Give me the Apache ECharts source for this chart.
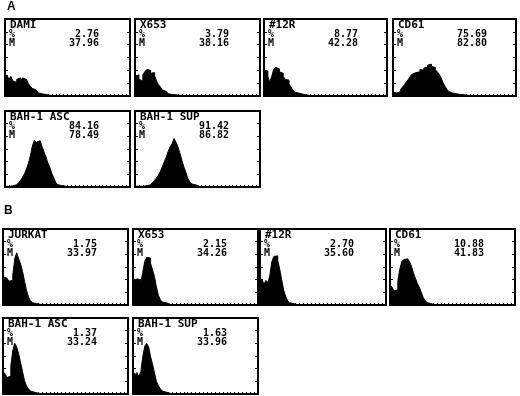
<!DOCTYPE html>
<html>
<head>
<meta charset="utf-8">
<script src="https://cdn.jsdelivr.net/npm/echarts@6/dist/echarts.min.js"></script>
<style>
html,body{margin:0;padding:0;background:#fff;}
#main{width:520px;height:396px;}
</style>
</head>
<body>
<div id="main"></div>
<script>
// histogram heights in % of panel height, 64 channel bins across each panel
// (bins not listed are empty)
var damiA   = [24,28,22,26,20,18,22,24,20,24,22,20,16,13,10,8,6,4,3,2,2,1,1,1,0.5,0.5,0.3,0.3];
var x653A   = [26,28,22,20,28,32,35,34,30,31,27,20,15,12,8,6,4,3,2,2,1.5,1,1,0.5,0.5,0.3];
var r12A    = [34,33,26,18,26,35,38,36,32,30,26,22,21,16,12,8,5,4,3,2.5,2,1.5,1,1,0.5,0.5,0.3];
var cd61A   = [5,4,4,6,9,12,15,19,22,26,29,31,33,32,35,34,37,38,41,42,39,38,35,32,29,24,18,13,9,6,4,3,3,2,2,1.5,1.5,1,1,1,0.5,0.5,0.5,0.3];
var bahAscA = [1,1,1,1.5,2,3,4,6,9,13,18,24,32,42,55,63,60,62,60,54,47,40,32,26,18,12,6,3,2,1,1,0.5,0.3];
var bahSupA = [1,1,1,1,1,1.5,2,3,4,6,9,12,16,21,27,34,40,48,54,58,65,60,54,45,36,27,20,12,7,4,3,2,1,0.5];
var jurkatB = [38,36,38,32,33,40,62,70,62,55,45,32,20,11,6,3,2,1,1,0.5,0.3];
var x653B   = [33,35,33,34,30,44,58,64,63,56,47,38,24,13,7,4,3,2,1,0.5];
var r12B    = [30,34,28,33,30,40,58,65,66,60,48,34,20,12,6,3,2,1,0.5,0.3];
var cd61B   = [27,24,19,20,32,48,58,61,62,61,58,52,43,36,29,24,17,10,6,3,2,1,0.5];
var bahAscB = [30,27,22,24,38,58,68,63,54,42,30,18,11,7,4,2.5,1.5,1,0.5,0.3];
var bahSupB = [28,26,29,23,30,50,64,68,63,50,40,28,17,11,7,4,2.5,1.5,1,0.5];

var names    = ['DAMI','X653','#12R','CD61','BAH-1 ASC','BAH-1 SUP','JURKAT','X653','#12R','CD61','BAH-1 ASC','BAH-1 SUP'];
var pctVals  = ['2.76','3.79','8.77','75.69','84.16','91.42','1.75','2.15','2.70','10.88','1.37','1.63'];
var meanVals = ['37.96','38.16','42.28','82.80','78.49','86.82','33.97','34.26','35.60','41.83','33.24','33.96'];
var hists = [damiA, x653A, r12A, cd61A, bahAscA, bahSupA, jurkatB, x653B, r12B, cd61B, bahAscB, bahSupB];

// panel boxes: left, top, width, height
var boxes = [
    [4,18,127,79],[134,18,127,79],[263,18,125,79],[392,18,125,79],
    [4,110,127,78],[134,110,127,78],
    [2,228,127,78],[132,228,127,78],[259,228,128,78],[389,228,127,78],
    [2,317,127,78],[132,317,127,78]
];

var grids = [], xAxes = [], yAxes = [], series = [], texts = [];
var nameFont = 'bold 11px "DejaVu Sans Mono"';
var valFont = 'bold 10px "DejaVu Sans Mono"';

boxes.forEach(function (b, i) {
    grids.push({
        left: b[0] + 1, top: b[1] + 1, width: b[2] - 2, height: b[3] - 2,
        show: true, borderColor: '#000', borderWidth: 2, backgroundColor: '#fff'
    });
    xAxes.push({
        gridIndex: i, type: 'value', min: 0, max: 64, interval: 2,
        axisLine: {show: false},
        axisTick: {inside: true, length: 2, lineStyle: {color: '#000', width: 1}},
        axisLabel: {show: false}, splitLine: {show: false}
    });
    ['left', 'right'].forEach(function (pos) {
        yAxes.push({
            gridIndex: i, type: 'value', position: pos, min: 0, max: 102, interval: 17,
            axisLine: {show: false},
            axisTick: {inside: true, length: 3, lineStyle: {color: '#000', width: 1}},
            axisLabel: {show: false}, splitLine: {show: false}
        });
    });
    var pts = hists[i].map(function (v, k) { return [k, v]; });
    series.push({
        type: 'line', xAxisIndex: i, yAxisIndex: 2 * i, data: pts,
        step: 'end', symbol: 'none', silent: true,
        lineStyle: {color: '#000', width: 1},
        areaStyle: {color: '#000', opacity: 1}
    });
    // panel captions
    texts.push({type: 'text', z: 100, x: b[0] + 6, y: b[1] + 7.5,
        style: {text: names[i], font: nameFont, fill: '#000', align: 'left', verticalAlign: 'middle'}});
    texts.push({type: 'text', z: 100, x: b[0] + 5, y: b[1] + 16.5,
        style: {text: '%', font: valFont, fill: '#000', align: 'left', verticalAlign: 'middle'}});
    texts.push({type: 'text', z: 100, x: b[0] + 5, y: b[1] + 25,
        style: {text: 'M', font: valFont, fill: '#000', align: 'left', verticalAlign: 'middle'}});
    texts.push({type: 'text', z: 100, x: b[0] + 95, y: b[1] + 16.5,
        style: {text: pctVals[i], font: valFont, fill: '#000', align: 'right', verticalAlign: 'middle'}});
    texts.push({type: 'text', z: 100, x: b[0] + 95, y: b[1] + 25,
        style: {text: meanVals[i], font: valFont, fill: '#000', align: 'right', verticalAlign: 'middle'}});
});

texts.push({type: 'text', x: 7, y: 7,
    style: {text: 'A', font: 'bold 12px "Liberation Sans"', fill: '#000', verticalAlign: 'middle'}});
texts.push({type: 'text', x: 4, y: 211,
    style: {text: 'B', font: 'bold 12px "Liberation Sans"', fill: '#000', verticalAlign: 'middle'}});

var chart = echarts.init(document.getElementById('main'));
chart.setOption({
    animation: false,
    backgroundColor: '#fff',
    grid: grids,
    xAxis: xAxes,
    yAxis: yAxes,
    series: series,
    graphic: texts
});
</script>
</body>
</html>
